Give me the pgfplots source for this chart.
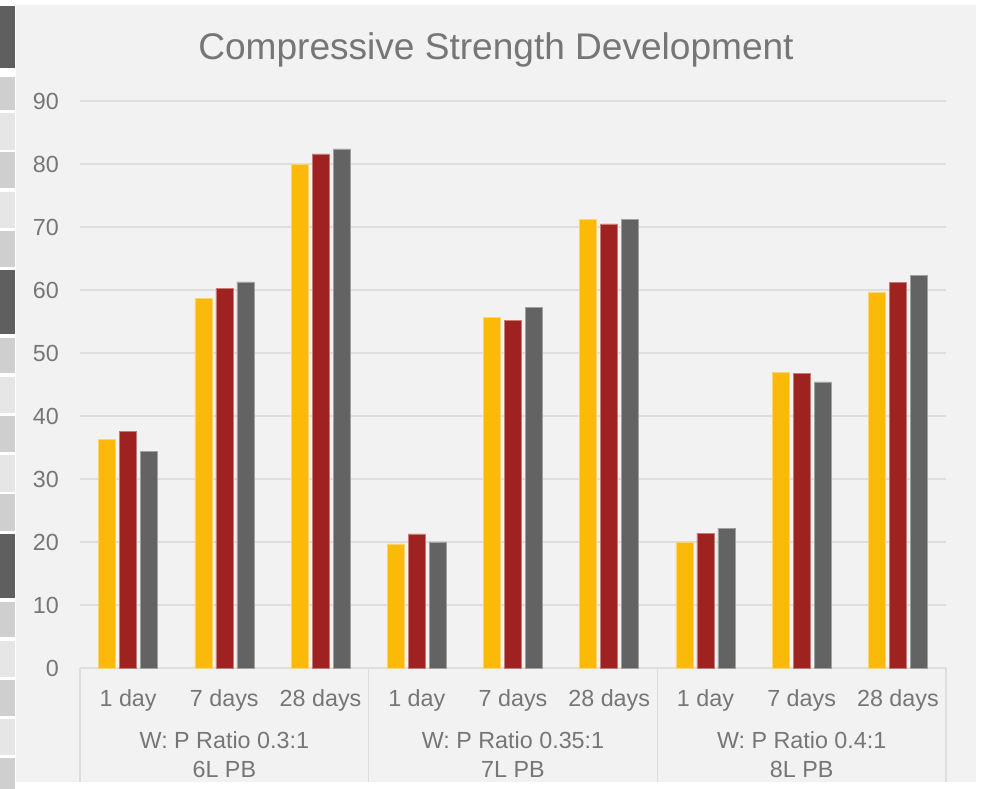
\documentclass[border=0pt]{standalone}
\usepackage{fontspec}
\setmainfont{Liberation Sans}
\usepackage{pgfplots}
\pgfplotsset{compat=1.18}
\definecolor{cy}{HTML}{FBBA09}
\definecolor{cr}{HTML}{9E2320}
\definecolor{cg}{HTML}{636363}
\definecolor{txt}{HTML}{767676}
\definecolor{gridc}{HTML}{DEDEDE}
\definecolor{bg}{HTML}{F2F2F2}
\definecolor{sdark}{HTML}{5F5F5F}
\definecolor{smid}{HTML}{CFCFCF}
\definecolor{slight}{HTML}{E6E6E6}
\begin{document}
\begin{tikzpicture}
\fill[white] (0bp,0bp) rectangle (986bp,789bp);
\fill[bg] (16bp,7bp) rectangle (976bp,784bp);
\foreach \a/\b/\c in {6/68/sdark, 77/110/smid, 113/150/slight, 152/188/smid, 192/228/slight, 231/267/smid, 270/334/sdark, 338/373/smid, 377/413/slight, 416/452/smid, 455/492/slight, 494/531/smid, 534/598/sdark, 602/637/smid, 641/677/slight, 680/716/smid, 719/755/slight, 758/789/smid}
  \fill[\c] (0bp,789bp-\a bp) rectangle (14.5bp,789bp-\b bp);
\begin{axis}[
  at={(128.11bp,121bp)}, anchor=origin, scale only axis,
  width=866bp, height=567bp,
  ymin=0, ymax=90, xmin=-0.5, xmax=8.5,
  ytick={0,10,...,90}, xtick={0,...,8},
  xticklabels={1 day,7 days,28 days,1 day,7 days,28 days,1 day,7 days,28 days},
  axis x line*=bottom, axis y line*=left,
  x axis line style={draw=gridc, line width=1.2bp, -},
  y axis line style={draw=none},
  ymajorgrids, grid style={draw=gridc, line width=1.2bp},
  major tick length=0pt,
  tick label style={font=\fontsize{23.4}{28}\selectfont, text=txt},
  yticklabel style={anchor=east, inner sep=0pt, xshift=-21bp},
  xticklabel style={anchor=base, inner sep=0pt, yshift=-38bp},
  /pgf/number format/assume math mode=true,
  clip=false,
  ybar, bar width=17bp,
]
\addplot[fill=cy, draw=cy!60!white, line width=0.6bp, bar shift=-21bp] coordinates {(0,36.3) (1,58.7) (2,79.9) (3,19.7) (4,55.6) (5,71.2) (6,20.0) (7,46.9) (8,59.6)};
\addplot[fill=cr, draw=cr!60!white, line width=0.6bp, bar shift=0bp] coordinates {(0,37.6) (1,60.2) (2,81.6) (3,21.3) (4,55.2) (5,70.5) (6,21.4) (7,46.8) (8,61.2)};
\addplot[fill=cg, draw=cg!60!white, line width=0.6bp, bar shift=21bp] coordinates {(0,34.4) (1,61.3) (2,82.4) (3,20.0) (4,57.2) (5,71.2) (6,22.2) (7,45.4) (8,62.3)};
\draw[gridc, line width=1.2bp] (axis cs:-0.5,0) -- ++(0pt,-114bp);
\draw[gridc, line width=1.2bp] (axis cs:2.5,0) -- ++(0pt,-114bp);
\draw[gridc, line width=1.2bp] (axis cs:5.5,0) -- ++(0pt,-114bp);
\draw[gridc, line width=1.2bp] (axis cs:8.5,0) -- ++(0pt,-114bp);
\node[anchor=base, text=txt, font=\fontsize{23.4}{28}\selectfont, inner sep=0pt] at ([yshift=-80bp]axis cs:1,0) {W: P Ratio 0.3:1};
\node[anchor=base, text=txt, font=\fontsize{23.4}{28}\selectfont, inner sep=0pt] at ([yshift=-109bp]axis cs:1,0) {6L PB};
\node[anchor=base, text=txt, font=\fontsize{23.4}{28}\selectfont, inner sep=0pt] at ([yshift=-80bp]axis cs:4,0) {W: P Ratio 0.35:1};
\node[anchor=base, text=txt, font=\fontsize{23.4}{28}\selectfont, inner sep=0pt] at ([yshift=-109bp]axis cs:4,0) {7L PB};
\node[anchor=base, text=txt, font=\fontsize{23.4}{28}\selectfont, inner sep=0pt] at ([yshift=-80bp]axis cs:7,0) {W: P Ratio 0.4:1};
\node[anchor=base, text=txt, font=\fontsize{23.4}{28}\selectfont, inner sep=0pt] at ([yshift=-109bp]axis cs:7,0) {8L PB};
\end{axis}
\node[anchor=base, text=txt, font=\fontsize{37.2}{44}\selectfont, inner sep=0pt] at (496bp,729bp) {Compressive Strength Development};
\pgfresetboundingbox
\useasboundingbox (0bp,0bp) rectangle (986bp,789bp);
\end{tikzpicture}
\end{document}
